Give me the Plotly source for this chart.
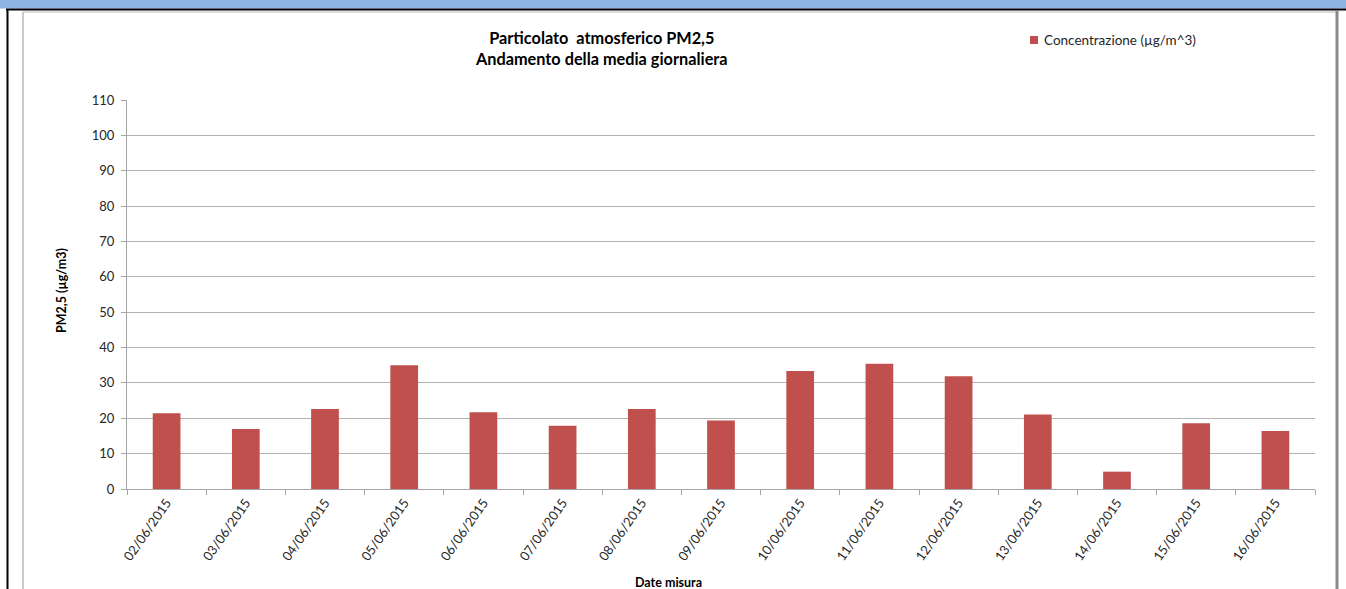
import plotly.graph_objects as go

dates = ["02/06/2015", "03/06/2015", "04/06/2015", "05/06/2015", "06/06/2015",
         "07/06/2015", "08/06/2015", "09/06/2015", "10/06/2015", "11/06/2015",
         "12/06/2015", "13/06/2015", "14/06/2015", "15/06/2015", "16/06/2015"]
pm25 = [21.4, 17.0, 22.6, 35.0, 21.7, 17.9, 22.6, 19.4, 33.4, 35.4, 31.9, 21.1, 4.9, 18.6, 16.4]
y_ticks = [0, 10, 20, 30, 40, 50, 60, 70, 80, 90, 100, 110]
series_name = "Concentrazione (µg/m^3)"

W, H = 1346, 589
L, R, T, B = 127, 1315, 100, 489
PW, PH = R - L, B - T

def px(x):
    return (x - L) / PW

def py(y):
    return (B - y) / PH

FONT = "Lato"
TXT = "#262626"
BAR = "#C0504D"

fig = go.Figure()
fig.add_trace(go.Bar(x=dates, y=pm25, name=series_name, showlegend=False,
                     marker=dict(color=BAR, line=dict(width=0))))

shapes = [
    dict(type="rect", xref="paper", yref="paper", x0=px(0), x1=px(W), y0=py(0), y1=py(8.5),
         fillcolor="#8DB4E2", line=dict(width=0), layer="above"),
    dict(type="line", xref="paper", yref="paper", x0=px(6), x1=px(W), y0=py(9.5), y1=py(9.5),
         line=dict(color="black", width=2)),
    dict(type="line", xref="paper", yref="paper", x0=px(7.5), x1=px(7.5), y0=py(9), y1=py(H),
         line=dict(color="black", width=2)),
    dict(type="line", xref="paper", yref="paper", x0=px(23), x1=px(1337), y0=py(12), y1=py(12),
         line=dict(color="#D0D0D0", width=1.5)),
    dict(type="line", xref="paper", yref="paper", x0=px(23), x1=px(23), y0=py(12), y1=py(H),
         line=dict(color="#B8B8B8", width=1.5)),
    dict(type="line", xref="paper", yref="paper", x0=px(1337), x1=px(1337), y0=py(11), y1=py(H),
         line=dict(color="#8A8A8A", width=3)),
    # legend key
    dict(type="rect", xref="paper", yref="paper", x0=px(1030), x1=px(1038), y0=py(36), y1=py(44),
         fillcolor=BAR, line=dict(width=0)),
]

annotations = [
    dict(text="<b>Particolato  atmosferico PM2,5<br>Andamento della media giornaliera</b>",
         xref="paper", yref="paper", x=px(601), y=py(48), xanchor="center", yanchor="middle",
         showarrow=False, font=dict(family=FONT, size=16.3, color="black"), align="center"),
    dict(text="<b>PM2,5 (µg/m3)</b>", xref="paper", yref="paper", x=px(61), y=py(291),
         xanchor="center", yanchor="middle", textangle=-90, showarrow=False,
         font=dict(family=FONT, size=12.5, color="black")),
    dict(text="<b>Date misura</b>", xref="paper", yref="paper", x=px(668), y=py(582),
         xanchor="center", yanchor="middle", showarrow=False,
         font=dict(family=FONT, size=12.5, color="black")),
    dict(text=series_name, xref="paper", yref="paper", x=px(1042), y=py(40),
         xanchor="left", yanchor="middle", showarrow=False,
         font=dict(family=FONT, size=13.5, color=TXT)),
]

fig.update_layout(
    width=W, height=H,
    margin=dict(l=L, r=W - R, t=T, b=H - B, pad=0),
    paper_bgcolor="white", plot_bgcolor="white",
    bargap=0.65,
    showlegend=False,
    font=dict(family=FONT, size=13, color=TXT),
    shapes=shapes,
    annotations=annotations,
    xaxis=dict(type="category", tickangle=-55, showline=True, linecolor="#A6A6A6", linewidth=1,
               ticks="outside", ticklen=5, tickcolor="#A6A6A6", tickson="boundaries",
               showgrid=False, tickfont=dict(family=FONT, size=13, color=TXT)),
    yaxis=dict(range=[0, 110], tickvals=y_ticks, showline=True, linecolor="#A6A6A6", linewidth=1,
               ticks="outside", ticklen=5, tickcolor="#A6A6A6", gridcolor="#B3B3B3", gridwidth=1,
               zeroline=False, ticklabelstandoff=4,
               tickfont=dict(family=FONT, size=13, color=TXT)),
)

fig.write_html("out.html", config={"displayModeBar": False},
               post_script="document.body.style.margin='0';document.body.style.overflow='hidden';")
